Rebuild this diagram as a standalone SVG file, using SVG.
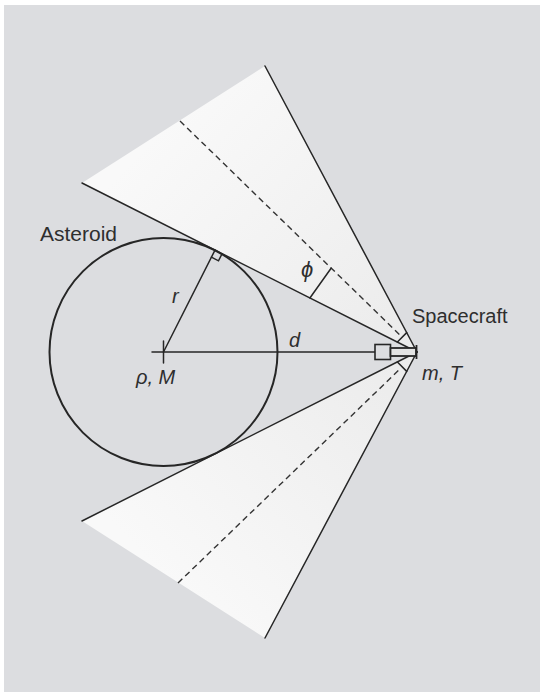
<svg xmlns="http://www.w3.org/2000/svg" width="540" height="692" viewBox="0 0 540 692">
  <defs>
    <linearGradient id="gUp" gradientUnits="userSpaceOnUse" x1="170" y1="120" x2="417" y2="352">
      <stop offset="0" stop-color="#f9f9f9"/>
      <stop offset="1" stop-color="#ebebeb"/>
    </linearGradient>
    <linearGradient id="gDn" gradientUnits="userSpaceOnUse" x1="170" y1="584" x2="417" y2="352">
      <stop offset="0" stop-color="#f9f9f9"/>
      <stop offset="1" stop-color="#ebebeb"/>
    </linearGradient>
  </defs>
  <style>
    .ln { stroke: #262626; stroke-width: 1.5; fill: none; stroke-linecap: round; }
    .dash { stroke: #333; stroke-width: 1.4; fill: none; stroke-dasharray: 6 4; }
    .lbl { font-family: "Liberation Sans", Arial, sans-serif; font-size: 20px; fill: #2e2e2e; }
    .it { font-style: italic; }
  </style>
  <rect x="0" y="0" width="540" height="692" fill="#ffffff"/>
  <rect x="4" y="5" width="536" height="687" fill="#dcdde0"/>

  <g id="cone-upper">
    <polygon points="417,352 82,183 265,66" fill="url(#gUp)"/>
    <line class="ln" x1="417" y1="352" x2="265" y2="66"/>
    <line class="dash" x1="180" y1="121" x2="401" y2="336"/>
    <line class="ln" x1="397.4" y1="342" x2="406.7" y2="332.6"/>
    <line class="ln" x1="309.9" y1="298" x2="331.1" y2="268.2"/>
  </g>
  <g id="cone-lower">
    <polygon points="417,352 82,521 265,638" fill="url(#gDn)"/>
    <line class="ln" x1="417" y1="352" x2="265" y2="638"/>
    <line class="dash" x1="178" y1="583" x2="401" y2="368"/>
    <line class="ln" x1="397.4" y1="362" x2="406.7" y2="371.4"/>
  </g>

  <g id="asteroid">
    <circle cx="163.5" cy="352" r="114" fill="none" stroke="#262626" stroke-width="2"/>
    <line class="ln" x1="163.5" y1="341" x2="163.5" y2="363"/>
    <polyline class="ln" points="222.1,253.7 218.5,260.8 211.4,257.2"/>
  </g>

  <g id="connectors">
    <line class="ln" x1="417" y1="352" x2="82" y2="183"/>
    <line class="ln" x1="417" y1="352" x2="82" y2="521"/>
    <line class="ln" x1="163.5" y1="352" x2="215" y2="250.1"/>
    <line class="ln" x1="152" y1="352" x2="375" y2="352"/>
  </g>

  <g id="spacecraft">
    <rect x="375" y="344.5" width="15.5" height="15" fill="#dcdde0" stroke="#262626" stroke-width="1.6"/>
    <rect x="390.5" y="348" width="25.5" height="8" fill="#e4e4e4" stroke="#262626" stroke-width="1.8"/>
    <line x1="416.5" y1="345" x2="416.5" y2="359" stroke="#262626" stroke-width="1.8"/>
  </g>

  <g id="labels">
    <text class="lbl" x="40" y="241" style="font-size:21px">Asteroid</text>
    <text class="lbl" x="412" y="323">Spacecraft</text>
    <text class="lbl it" x="422" y="380">m, T</text>
    <text class="lbl it" x="136" y="384">ρ, M</text>
    <text class="lbl it" x="289" y="347">d</text>
    <text class="lbl it" x="172" y="303">r</text>
    <text class="lbl it" x="301" y="277" style="font-size:22px">ϕ</text>
  </g>
</svg>
